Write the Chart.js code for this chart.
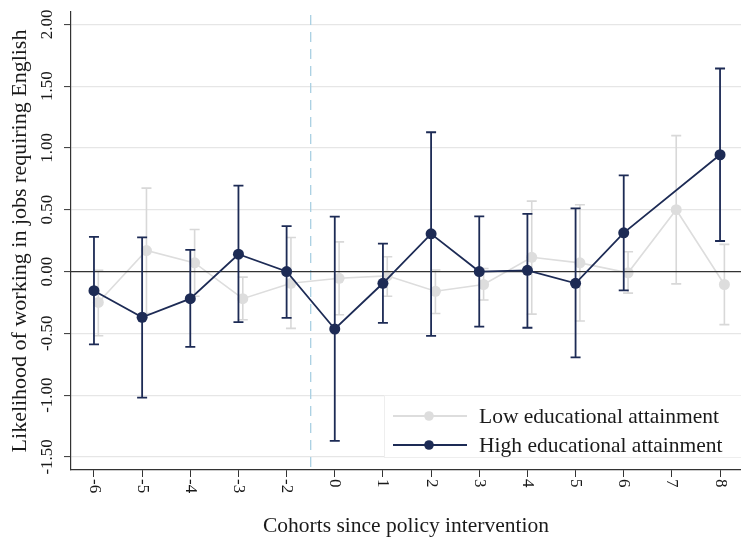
<!DOCTYPE html>
<html>
<head>
<meta charset="utf-8">
<script src="https://cdn.jsdelivr.net/npm/chart.js@4"></script>
<style>
  html, body { margin: 0; padding: 0; background: #fff; overflow: hidden; }
  #wrap { width: 741px; height: 537px; position: relative; }
  canvas { display: block; }
</style>
</head>
<body>
<div id="wrap"><canvas id="myChart"></canvas></div>
<script>
// cohorts since policy intervention (no -1 cohort in the chart)
const cohortLabels = ['-6', '-5', '-4', '-3', '-2', '0', '1', '2', '3', '4', '5', '6', '7', '8'];
const yTickValues = [-1.5, -1.0, -0.5, 0, 0.5, 1.0, 1.5, 2.0];

// low educational attainment: estimate and 95% CI
const lowEst = [-0.25, 0.17, 0.07, -0.22, -0.095, -0.055, -0.035, -0.16, -0.105, 0.115, 0.07, -0.01, 0.50, -0.105];
const lowLo  = [-0.52, -0.34, -0.20, -0.39, -0.46, -0.35, -0.20, -0.34, -0.23, -0.345, -0.40, -0.175, -0.10, -0.43];
const lowHi  = [0.01, 0.675, 0.34, -0.045, 0.275, 0.24, 0.12, 0.012, 0.025, 0.57, 0.54, 0.16, 1.10, 0.22];

// high educational attainment (no estimate for cohort 7)
const highEst = [-0.155, -0.37, -0.22, 0.14, 0.0, -0.465, -0.095, 0.305, 0.0, 0.01, -0.095, 0.313, null, 0.945];
const highLo  = [-0.59, -1.02, -0.61, -0.41, -0.375, -1.37, -0.415, -0.52, -0.446, -0.455, -0.695, -0.152, null, 0.247];
const highHi  = [0.28, 0.277, 0.175, 0.695, 0.367, 0.445, 0.226, 1.127, 0.447, 0.466, 0.511, 0.778, null, 1.643];

const NAVY = '#1d2b55';
const GRAY = '#dddddd';
const TEXT = '#1a1a1a';
const FONT = "'Liberation Serif', 'Times New Roman', serif";
const LOW_SHIFT = 0.09;   // low series is drawn slightly to the right

function toPoints(values, shift) {
  const pts = [];
  values.forEach((v, i) => {
    if (v !== null) pts.push({ x: i + shift, y: v });
  });
  return pts;
}

const ciSets = [
  { lo: lowLo, hi: lowHi, shift: LOW_SHIFT, color: '#d8d8d8', width: 1.6 },
  { lo: highLo, hi: highHi, shift: 0, color: NAVY, width: 1.8 }
];

const decorPlugin = {
  id: 'decor',
  beforeDatasetsDraw(chart) {
    const { ctx, chartArea, scales } = chart;
    // dashed line between cohort -2 and 0
    const xd = scales.x.getPixelForValue(4.5);
    ctx.save();
    ctx.strokeStyle = '#a9d0e2';
    ctx.lineWidth = 1.3;
    ctx.setLineDash([10, 7]);
    ctx.beginPath();
    ctx.moveTo(xd, chartArea.top + 3);
    ctx.lineTo(xd, chartArea.bottom);
    ctx.stroke();
    ctx.restore();
  },
  beforeDatasetDraw(chart, args) {
    const { ctx, chartArea, scales } = chart;
    if (args.index === 1) {
      // zero reference line
      const y0 = scales.y.getPixelForValue(0);
      ctx.save();
      ctx.strokeStyle = '#333';
      ctx.lineWidth = 1.2;
      ctx.beginPath();
      ctx.moveTo(chartArea.left, y0);
      ctx.lineTo(chartArea.right, y0);
      ctx.stroke();
      ctx.restore();
    }
    const s = ciSets[args.index];
    ctx.save();
    ctx.strokeStyle = s.color;
    ctx.lineWidth = s.width;
    s.lo.forEach((lo, i) => {
      if (lo === null) return;
      const x = scales.x.getPixelForValue(i + s.shift);
      const yl = scales.y.getPixelForValue(lo);
      const yh = scales.y.getPixelForValue(s.hi[i]);
      ctx.beginPath();
      ctx.moveTo(x, yl); ctx.lineTo(x, yh);
      ctx.moveTo(x - 5, yl); ctx.lineTo(x + 5, yl);
      ctx.moveTo(x - 5, yh); ctx.lineTo(x + 5, yh);
      ctx.stroke();
    });
    ctx.restore();
  },
  afterDraw(chart) {
    const { ctx, scales } = chart;
    ctx.save();
    ctx.fillStyle = TEXT;
    ctx.font = '17px ' + FONT;
    // x tick labels, turned clockwise
    cohortLabels.forEach((lab, i) => {
      const x = scales.x.getPixelForValue(i);
      ctx.save();
      ctx.translate(x, 479);
      ctx.rotate(Math.PI / 2);
      ctx.textAlign = 'left';
      ctx.textBaseline = 'middle';
      ctx.fillText(lab, 0, 0);
      ctx.restore();
    });
    // y tick labels, turned counter-clockwise
    yTickValues.forEach(v => {
      const y = scales.y.getPixelForValue(v);
      ctx.save();
      ctx.translate(48, y);
      ctx.rotate(-Math.PI / 2);
      ctx.textAlign = 'center';
      ctx.textBaseline = 'middle';
      ctx.fillText(v.toFixed(2), 0, 0);
      ctx.restore();
    });

    // legend box
    ctx.fillStyle = '#fff';
    ctx.fillRect(384, 396, 360, 61);
    ctx.strokeStyle = '#eeeeee';
    ctx.lineWidth = 1;
    ctx.strokeRect(384.5, 395.5, 360, 62);
    const entries = [
      { label: 'Low educational attainment', color: GRAY, y: 416 },
      { label: 'High educational attainment', color: NAVY, y: 445 }
    ];
    entries.forEach(e => {
      ctx.strokeStyle = e.color;
      ctx.lineWidth = 1.8;
      ctx.beginPath();
      ctx.moveTo(393, e.y); ctx.lineTo(467, e.y);
      ctx.stroke();
      ctx.fillStyle = e.color;
      ctx.beginPath();
      ctx.arc(429, e.y, 4.8, 0, Math.PI * 2);
      ctx.fill();
      ctx.fillStyle = TEXT;
      ctx.font = '21.5px ' + FONT;
      ctx.textAlign = 'left';
      ctx.textBaseline = 'middle';
      ctx.fillText(e.label, 479, e.y + 1);
    });
    ctx.restore();
  }
};

const ctx = document.getElementById('myChart').getContext('2d');
window.myChart = new Chart(ctx, {
  type: 'line',
  data: {
    datasets: [{
      label: 'Low educational attainment',
      data: toPoints(lowEst, LOW_SHIFT),
      borderColor: GRAY,
      backgroundColor: GRAY,
      pointBackgroundColor: GRAY,
      pointBorderWidth: 0,
      pointRadius: 5.5,
      borderWidth: 1.6,
      tension: 0,
      order: 2
    },
    {
      label: 'High educational attainment',
      data: toPoints(highEst, 0),
      borderColor: NAVY,
      backgroundColor: NAVY,
      pointBackgroundColor: NAVY,
      pointBorderWidth: 0,
      pointRadius: 5.5,
      borderWidth: 1.8,
      tension: 0,
      order: 1
    }]
  },
  options: {
    responsive: true,
    maintainAspectRatio: false,
    animation: false,
    layout: { autoPadding: false, padding: { top: 12, right: 0, left: 0, bottom: 0 } },
    plugins: {
      legend: { display: false },
      tooltip: { enabled: false }
    },
    scales: {
      x: {
        type: 'linear',
        min: -0.477,
        max: 13.435,
        afterBuildTicks: scale => { scale.ticks = cohortLabels.map((l, i) => ({ value: i })); },
        afterFit: scale => { scale.height = 67; },
        ticks: { display: false },
        grid: { drawOnChartArea: false, tickLength: 7, tickColor: '#333', tickWidth: 1 },
        border: { color: '#333', width: 1.2 },
        title: {
          display: true,
          text: 'Cohorts since policy intervention',
          color: TEXT,
          font: { family: FONT, size: 21.5, lineHeight: 1 },
          padding: { top: 0, bottom: 0 }
        }
      },
      y: {
        min: -1.606,
        max: 2.1,
        afterBuildTicks: scale => { scale.ticks = yTickValues.map(v => ({ value: v })); },
        afterFit: scale => { scale.width = 71; },
        ticks: { display: false },
        grid: {
          color: c => (c.tick && c.tick.value === 0) ? 'rgba(0,0,0,0)' : '#e6e6e6',
          lineWidth: 1.2,
          tickLength: 7,
          tickColor: '#333',
          tickWidth: 1
        },
        border: { color: '#333', width: 1.2 },
        title: {
          display: true,
          text: 'Likelihood of working in jobs requiring English',
          color: TEXT,
          font: { family: FONT, size: 22, lineHeight: 1 },
          padding: { top: 9, bottom: 0 }
        }
      }
    }
  },
  plugins: [decorPlugin]
});
</script>
</body>
</html>
